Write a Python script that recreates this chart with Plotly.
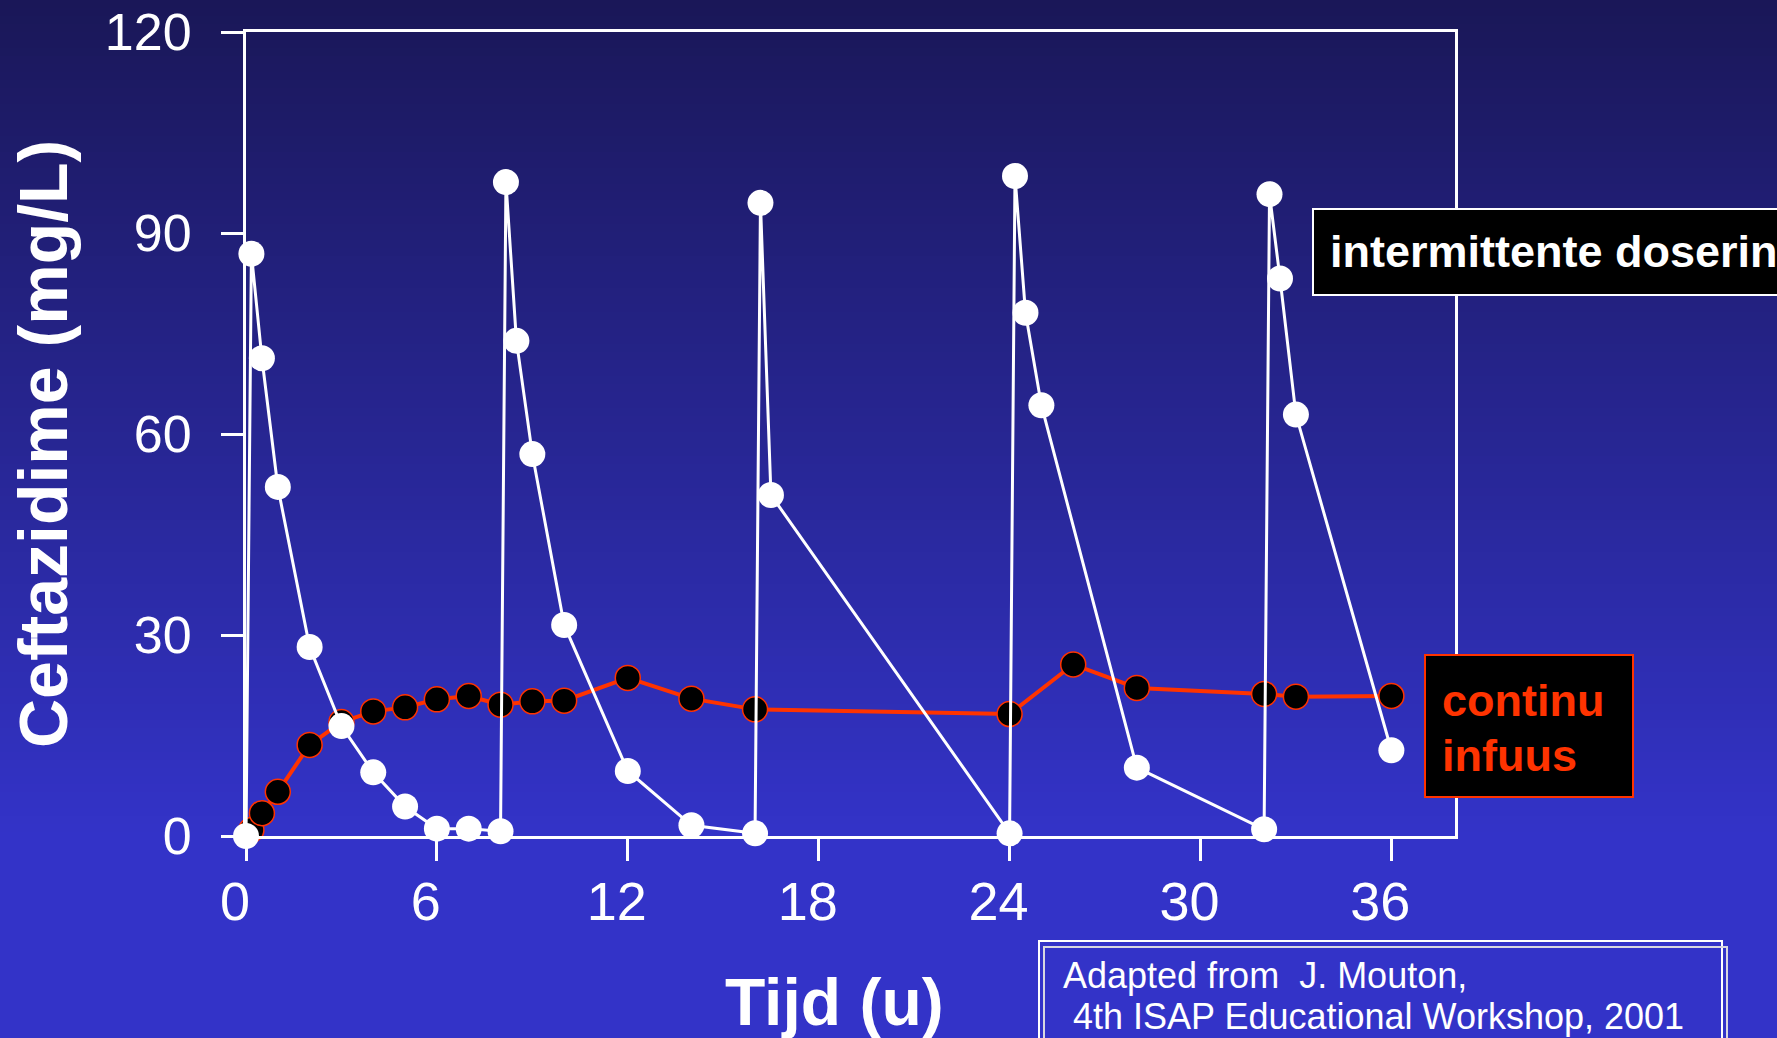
import plotly.graph_objects as go

# ---------------- data ----------------
int_t = [0, 0.17, 0.5, 1, 2, 3, 4, 5, 6, 7, 8,
         8.17, 8.5, 9, 10, 12, 14, 16,
         16.17, 16.5, 24,
         24.17, 24.5, 25, 28, 32,
         32.17, 32.5, 33, 36]
int_c = [0, 86.9, 71.3, 52.1, 28.2, 16.4, 9.5, 4.4, 1.1, 1.1, 0.7,
         97.6, 73.9, 57.0, 31.5, 9.7, 1.6, 0.4,
         94.5, 50.9, 0.4,
         98.5, 78.1, 64.3, 10.2, 1.0,
         95.8, 83.2, 62.9, 12.8]

cont_t = [0.17, 0.5, 1, 2, 3, 4, 5, 6, 7, 8, 9, 10, 12, 14, 16, 24, 26, 28, 32, 33, 36]
cont_c = [0.9, 3.4, 6.6, 13.6, 17.0, 18.6, 19.2, 20.4, 20.9, 19.6, 20.1, 20.2,
          23.6, 20.5, 18.9, 18.2, 25.6, 22.1, 21.2, 20.8, 20.9]

x_ticks = [0, 6, 12, 18, 24, 30, 36]
y_ticks = [0, 30, 60, 90, 120]

y_title = "Ceftazidime (mg/L)"
x_title = "Tijd (u)"
label_int = "intermittente dosering"
label_cont = ["continu", "infuus"]
source_lines = ["Adapted from\u00a0 J. Mouton,", "4th ISAP Educational Workshop, 2001"]

# ---------------- geometry helpers ----------------
W, H = 1777, 1038
L, R, T, B = 246, 1455, 32, 836   # plot area in pixels


def px(q):
    return (q - L) / (R - L)


def py(p):
    return (B - p) / (B - T)


FONT = "Liberation Sans, Arial, sans-serif"
RED = "#ff3300"

fig = go.Figure()

# continuous infusion (drawn first, below the white series)
fig.add_trace(go.Scatter(
    x=cont_t, y=cont_c, mode="lines+markers",
    line=dict(color=RED, width=4),
    marker=dict(size=25, color="black", line=dict(color=RED, width=1.5)),
    cliponaxis=False, showlegend=False, hoverinfo="skip"))

# intermittent dosing
fig.add_trace(go.Scatter(
    x=int_t, y=int_c, mode="lines+markers",
    line=dict(color="white", width=3),
    marker=dict(size=26, color="white"),
    cliponaxis=False, showlegend=False, hoverinfo="skip"))

# ---------------- background gradient ----------------
shapes = []
top_c = (26, 23, 88)
bot_c = (51, 51, 200)
step = 8
for p in range(0, H + step, step):
    t = min(p / 830.0, 1.0)
    c = tuple(int(round(top_c[i] + (bot_c[i] - top_c[i]) * t)) for i in range(3))
    shapes.append(dict(type="rect", xref="paper", yref="paper",
                       x0=px(-5), x1=px(W + 5), y0=py(p + step + 1), y1=py(p),
                       fillcolor="rgb(%d,%d,%d)" % c, line=dict(width=0), layer="below"))

# label boxes
shapes.append(dict(type="rect", xref="paper", yref="paper",
                   x0=px(1313), x1=px(1850), y0=py(295), y1=py(209),
                   fillcolor="black", line=dict(color="white", width=2), layer="above"))
shapes.append(dict(type="rect", xref="paper", yref="paper",
                   x0=px(1425), x1=px(1633), y0=py(797), y1=py(655),
                   fillcolor="black", line=dict(color=RED, width=2), layer="above"))
shapes.append(dict(type="rect", xref="paper", yref="paper",
                   x0=px(1039), x1=px(1722), y0=py(1080), y1=py(941),
                   line=dict(color="white", width=2), layer="above"))
shapes.append(dict(type="rect", xref="paper", yref="paper",
                   x0=px(1044), x1=px(1727), y0=py(1080), y1=py(947),
                   line=dict(color="#d8d8e0", width=2), layer="above"))

annotations = [
    dict(text=y_title, textangle=-90, x=px(43), y=py(444), xref="paper", yref="paper",
         xanchor="center", yanchor="middle", showarrow=False,
         font=dict(family=FONT, size=68, color="white", weight="bold")),
    dict(text=x_title, x=px(834), y=py(1002), xref="paper", yref="paper",
         xanchor="center", yanchor="middle", showarrow=False,
         font=dict(family=FONT, size=66, color="white", weight="bold")),
    dict(text=label_int, x=px(1328), y=py(252), xref="paper", yref="paper",
         xanchor="left", yanchor="middle", showarrow=False,
         font=dict(family=FONT, size=45, color="white", weight="bold")),
    dict(text=label_cont[0], x=px(1440), y=py(700), xref="paper", yref="paper",
         xanchor="left", yanchor="middle", showarrow=False,
         font=dict(family=FONT, size=45, color=RED, weight="bold")),
    dict(text=label_cont[1], x=px(1440), y=py(755), xref="paper", yref="paper",
         xanchor="left", yanchor="middle", showarrow=False,
         font=dict(family=FONT, size=45, color=RED, weight="bold")),
    dict(text=source_lines[0], x=px(1061), y=py(975), xref="paper", yref="paper",
         xanchor="left", yanchor="middle", showarrow=False,
         font=dict(family=FONT, size=36, color="white")),
    dict(text=source_lines[1], x=px(1071), y=py(1016), xref="paper", yref="paper",
         xanchor="left", yanchor="middle", showarrow=False,
         font=dict(family=FONT, size=36, color="white")),
]

axis_common = dict(showline=True, linecolor="white", linewidth=3, mirror=True,
                   ticks="outside", ticklen=22, tickwidth=3, tickcolor="white",
                   showgrid=False, zeroline=False)

fig.update_layout(
    width=W, height=H,
    margin=dict(l=L, r=W - R, t=T, b=H - B, autoexpand=False),
    paper_bgcolor="rgb(42,42,156)",
    plot_bgcolor="rgba(0,0,0,0)",
    showlegend=False,
    shapes=shapes,
    annotations=annotations,
    xaxis=dict(range=[0, 38], tickmode="array", tickvals=x_ticks,
               ticktext=[str(v) for v in x_ticks],
               tickfont=dict(family=FONT, size=54, color="white"),
               ticklabelstandoff=-6, ticklabelshift=-11, **axis_common),
    yaxis=dict(range=[0, 120], tickmode="array", tickvals=y_ticks,
               ticktext=[str(v) for v in y_ticks],
               tickfont=dict(family=FONT, size=52, color="white"),
               ticklabelstandoff=19, **axis_common),
)

fig.write_html("out.html")
